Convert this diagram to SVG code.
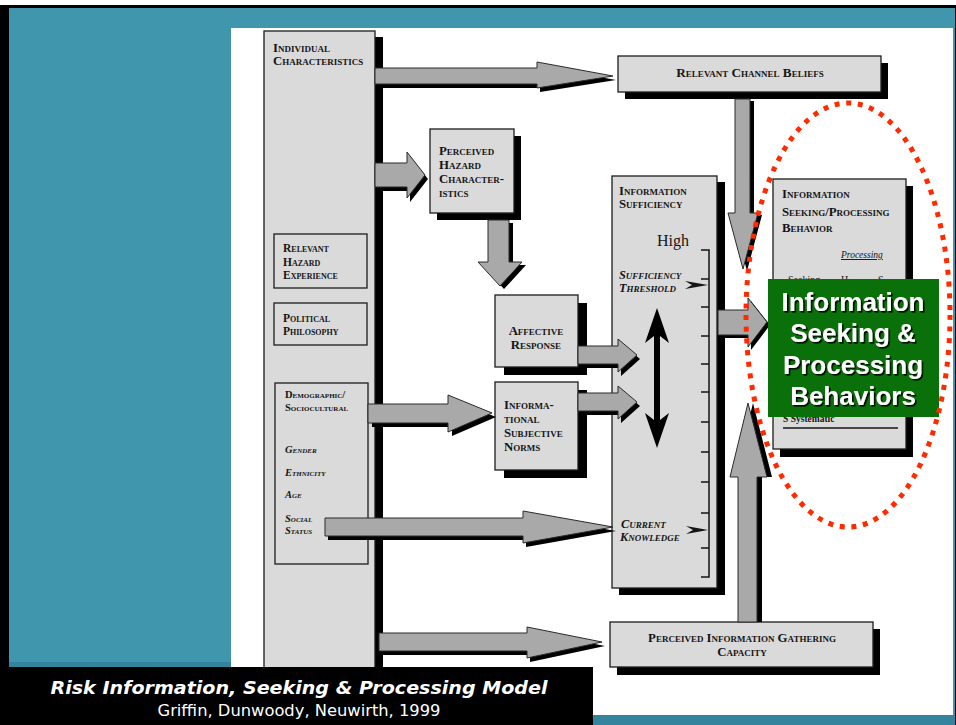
<svg xmlns="http://www.w3.org/2000/svg" xmlns:xlink="http://www.w3.org/1999/xlink" width="956" height="725" viewBox="0 0 956 725">
  <defs>
    <style>
      .box{fill:#dadada;stroke:#1c1c1c;stroke-width:1.3}
      .sh{fill:#000}
      .ar{fill:#a9a9a9;stroke:#2b2b2b;stroke-width:1}
      .lbl{font-family:"Liberation Serif",serif;font-weight:bold;font-variant:small-caps;fill:#151515;font-size:12.8px}
      .sm{font-size:10.5px}
      .md{font-size:11.5px}
      .it{font-style:italic}
      .sc{font-size:12.3px}
      .mid{text-anchor:middle}
      .green{fill:#0a700a}
      .gtxt{font-family:"Liberation Sans",Arial,sans-serif;font-weight:bold;font-size:26px;fill:#fff;text-anchor:middle}
      .cap{font-family:"DejaVu Sans",Verdana,sans-serif;fill:#fff;text-anchor:middle}
    </style>
    <filter id="ds" x="-10%" y="-10%" width="130%" height="130%">
      <feDropShadow dx="1.6" dy="1.6" stdDeviation="0.6" flood-color="#000" flood-opacity="0.9"/>
    </filter>
    <!-- block arrow outlines; fill comes from the <use> that draws them -->
    <polygon id="a1" points="375,68 537,68 537,62 613,76 537,88 537,84 375,84"/>
    <polygon id="a2" points="375,163 407,163 407,152 425,175 407,198 407,187 375,187"/>
    <polygon id="a3" points="488,220 509,220 509,262 522,262 500,286 478,262 488,262"/>
    <polygon id="a4" points="578,346 618,346 618,339 637,355 618,372 618,364 578,364"/>
    <polygon id="a5" points="578,393 618,393 618,386 637,402 618,419 618,411 578,411"/>
    <polygon id="a6" points="368,404 448,404 448,395 492,413 448,432 448,423 368,423"/>
    <polygon id="a7" points="325,518 523,518 523,511 613,527 523,543 523,536 325,536"/>
    <polygon id="a8" points="379,633 527,633 527,627 602,642 527,658 527,651 379,651"/>
    <polygon id="a9" points="735,99 750,99 750,213 758,213 743,269 728,213 735,213"/>
    <polygon id="a10" points="718,310 748,310 748,298 767,322 748,347 748,335 718,335"/>
    <polygon id="a11" points="738,622 757,622 757,477 767,477 748,403 730,477 738,477"/>
  </defs>

  <!-- slide background -->
  <rect x="0" y="0" width="956" height="725" fill="#fff"/>
  <rect x="0" y="5" width="956" height="720" fill="#000"/>
  <rect x="9" y="8" width="946" height="717" fill="#4096ad"/>
  <rect x="9" y="662" width="222" height="5" fill="#35849e"/>
  <rect x="231" y="715" width="724" height="10" fill="#35849e"/>
  <rect x="231" y="28" width="722" height="687" fill="#fff"/>

  <!-- individual characteristics column -->
  <g id="individual">
    <rect x="375" y="37" width="8" height="630" class="sh"/>
    <rect x="264" y="31" width="111" height="640" class="box"/>
    <text class="lbl" x="273" y="52">Individual</text>
    <text class="lbl" x="273" y="65">Characteristics</text>
  </g>
  <g id="hazard-experience">
    <rect x="274" y="234" width="93" height="54" class="box"/>
    <text class="lbl md" x="283" y="252">Relevant</text>
    <text class="lbl md" x="283" y="266">Hazard</text>
    <text class="lbl md" x="283" y="279">Experience</text>
  </g>
  <g id="political">
    <rect x="274" y="303" width="93" height="42" class="box"/>
    <text class="lbl md" x="283" y="322">Political</text>
    <text class="lbl md" x="283" y="335">Philosophy</text>
  </g>
  <g id="demographic">
    <rect x="275" y="383" width="93" height="181" class="box"/>
    <text class="lbl sm" x="285" y="398">Demographic/</text>
    <text class="lbl sm" x="285" y="411">Sociocultural</text>
    <text class="lbl sm it" x="285" y="453">Gender</text>
    <text class="lbl sm it" x="285" y="476">Ethnicity</text>
    <text class="lbl sm it" x="285" y="498">Age</text>
    <text class="lbl sm it" x="285" y="522">Social</text>
    <text class="lbl sm it" x="285" y="534">Status</text>
  </g>

  <g id="channel-beliefs">
    <rect x="625" y="63" width="263" height="36" class="sh"/>
    <rect x="618" y="56" width="263" height="36" class="box"/>
    <text class="lbl mid" x="750" y="77" style="font-size:13.2px">Relevant Channel Beliefs</text>
  </g>
  <g id="hazard-characteristics">
    <rect x="437" y="136" width="84" height="84" class="sh"/>
    <rect x="430" y="129" width="84" height="84" class="box"/>
    <text class="lbl" x="439" y="155">Perceived</text>
    <text class="lbl" x="439" y="169">Hazard</text>
    <text class="lbl" x="439" y="183">Character-</text>
    <text class="lbl" x="439" y="197">istics</text>
  </g>
  <g id="affective">
    <rect x="504" y="303" width="83" height="72" class="sh"/>
    <rect x="495" y="295" width="83" height="72" class="box"/>
    <text class="lbl mid" x="536" y="335">Affective</text>
    <text class="lbl mid" x="536" y="349">Response</text>
  </g>
  <g id="subjective-norms">
    <rect x="504" y="390" width="83" height="88" class="sh"/>
    <rect x="495" y="382" width="83" height="88" class="box"/>
    <text class="lbl" x="504" y="409">Informa-</text>
    <text class="lbl" x="504" y="423">tional</text>
    <text class="lbl" x="504" y="437">Subjective</text>
    <text class="lbl" x="504" y="451">Norms</text>
  </g>
  <g id="sufficiency">
    <rect x="619" y="182" width="106" height="413" class="sh"/>
    <rect x="612" y="176" width="105" height="412" class="box"/>
    <text class="lbl" x="619" y="195">Information</text>
    <text class="lbl" x="619" y="208">Sufficiency</text>
    <text x="657" y="246" font-family="Liberation Serif,serif" font-size="16" fill="#151515">High</text>
    <text class="lbl sc it" x="619" y="279">Sufficiency</text>
    <text class="lbl sc it" x="619" y="292">Threshold</text>
    <text class="lbl sc it" x="621" y="528">Current</text>
    <text class="lbl sc it" x="620" y="541">Knowledge</text>
    <!-- scale -->
    <path d="M701,250H709V577H701M701,279H709M701,307H709M701,336H709M701,364H709M701,392H709M701,422H709M701,452H709M701,482H709M701,513H709M701,548H709" fill="none" stroke="#151515" stroke-width="1.5"/>
    <polygon points="685,281 708,285 685,289 692,285" fill="#151515"/>
    <polygon points="686,526 708,530 686,534 693,530" fill="#151515"/>
    <polygon points="657,308 669,343 660,336 660,420 669,413 657,448 645,413 654,420 654,336 645,343" fill="#000"/>
  </g>
  <g id="seeking-behavior">
    <rect x="780" y="186" width="133" height="271" class="sh"/>
    <rect x="773" y="179" width="133" height="270" class="box"/>
    <text class="lbl" x="782" y="198">Information</text>
    <text class="lbl" x="782" y="216">Seeking/Processing</text>
    <text class="lbl" x="782" y="232">Behavior</text>
    <text x="841" y="258" font-family="Liberation Serif,serif" font-style="italic" font-size="9.5" fill="#151515" text-decoration="underline">Processing</text>
    <text x="788" y="283" font-family="Liberation Serif,serif" font-size="10" fill="#151515">Seeking</text>
    <text x="841" y="283" font-family="Liberation Serif,serif" font-size="10" fill="#151515">H</text>
    <text x="878" y="283" font-family="Liberation Serif,serif" font-size="10" fill="#151515">S</text>
    <text x="783" y="422" font-family="Liberation Serif,serif" font-weight="bold" font-size="9.5" fill="#151515">S Systematic</text>
    <line x1="783" y1="428" x2="898" y2="428" stroke="#151515" stroke-width="1.5"/>
  </g>
  <g id="gathering-capacity">
    <rect x="617" y="629" width="263" height="46" class="sh"/>
    <rect x="610" y="622" width="263" height="45" class="box"/>
    <text class="lbl mid" x="742" y="642">Perceived Information Gathering</text>
    <text class="lbl mid" x="742" y="656">Capacity</text>
  </g>

  <!-- connectors: shaded block arrows -->
  <g id="connectors">
    <use xlink:href="#a1" class="sh" transform="translate(3,4)"/>
    <use xlink:href="#a1" class="ar"/>
    <use xlink:href="#a2" class="sh" transform="translate(3,4)"/>
    <use xlink:href="#a2" class="ar"/>
    <use xlink:href="#a3" class="sh" transform="translate(4,3)"/>
    <use xlink:href="#a3" class="ar"/>
    <use xlink:href="#a4" class="sh" transform="translate(3,4)"/>
    <use xlink:href="#a4" class="ar"/>
    <use xlink:href="#a5" class="sh" transform="translate(3,4)"/>
    <use xlink:href="#a5" class="ar"/>
    <use xlink:href="#a6" class="sh" transform="translate(4,4)"/>
    <use xlink:href="#a6" class="ar"/>
    <use xlink:href="#a7" class="sh" transform="translate(3,4)"/>
    <use xlink:href="#a7" class="ar"/>
    <use xlink:href="#a8" class="sh" transform="translate(3,4)"/>
    <use xlink:href="#a8" class="ar"/>
    <use xlink:href="#a9" class="sh" transform="translate(4,2)"/>
    <use xlink:href="#a9" class="ar"/>
    <use xlink:href="#a10" class="sh" transform="translate(3,3)"/>
    <use xlink:href="#a10" class="ar"/>
    <use xlink:href="#a11" class="sh" transform="translate(5,0)"/>
    <use xlink:href="#a11" class="ar"/>
  </g>

  <!-- highlighted outcome -->
  <g id="outcome-label">
    <rect x="768" y="279" width="171" height="138" class="green"/>
    <g filter="url(#ds)">
      <text class="gtxt" x="853" y="311">Information</text>
      <text class="gtxt" x="853" y="342">Seeking &amp;</text>
      <text class="gtxt" x="853" y="374">Processing</text>
      <text class="gtxt" x="853" y="405">Behaviors</text>
    </g>
  </g>
  <ellipse id="outcome-ring" cx="848" cy="315" rx="102" ry="212" fill="none" stroke="#ff2a00" stroke-width="5" stroke-dasharray="5 6.7"/>

  <!-- caption -->
  <g id="caption">
    <rect x="8" y="667" width="585" height="58" fill="#000"/>
    <text class="cap" x="299" y="694" font-size="18.5" font-weight="bold" font-style="italic" textLength="497" lengthAdjust="spacingAndGlyphs">Risk Information, Seeking &amp; Processing Model</text>
    <text class="cap" x="299" y="716" font-size="16" textLength="283" lengthAdjust="spacingAndGlyphs">Griffin, Dunwoody, Neuwirth, 1999</text>
  </g>
</svg>
